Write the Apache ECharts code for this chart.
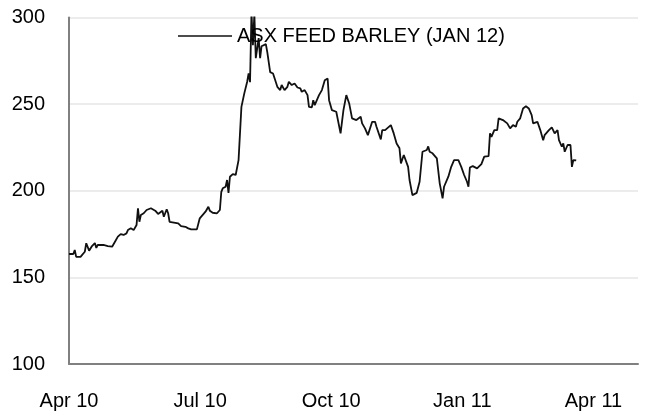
<!DOCTYPE html>
<html>
<head>
<meta charset="utf-8">
<script src="https://cdn.jsdelivr.net/npm/echarts@6/dist/echarts.min.js"></script>
<style>
  html, body { margin: 0; padding: 0; background: #ffffff; }
  #chart { width: 650px; height: 417px; }
</style>
</head>
<body>
<div id="chart"></div>
<script>
// Series name
const seriesName = 'ASX FEED BARLEY (JAN 12)';

// X-axis tick labels (quarterly)
const xTickLabels = ['Apr 10', 'Jul 10', 'Oct 10', 'Jan 11', 'Apr 11'];

// Y-axis ticks
const yTicks = [100, 150, 200, 250, 300];

// Observation dates
const dates = [
  '2010-04-01','2010-04-04','2010-04-05','2010-04-06','2010-04-09','2010-04-10','2010-04-12','2010-04-13',
  '2010-04-15','2010-04-17','2010-04-19','2010-04-20','2010-04-21','2010-04-25','2010-04-26','2010-04-28',
  '2010-05-01','2010-05-03','2010-05-05','2010-05-07','2010-05-09','2010-05-11','2010-05-12','2010-05-14',
  '2010-05-16','2010-05-17','2010-05-18','2010-05-19','2010-05-20','2010-05-21','2010-05-23','2010-05-25',
  '2010-05-28','2010-05-31','2010-06-02','2010-06-03','2010-06-05','2010-06-06','2010-06-08','2010-06-09',
  '2010-06-10','2010-06-14','2010-06-16','2010-06-18','2010-06-21','2010-06-23','2010-06-25','2010-06-29',
  '2010-07-01','2010-07-02','2010-07-05','2010-07-07','2010-07-08','2010-07-10','2010-07-13','2010-07-15',
  '2010-07-16','2010-07-17','2010-07-19','2010-07-20','2010-07-21','2010-07-22','2010-07-24','2010-07-26',
  '2010-07-27','2010-07-28','2010-07-29','2010-07-30','2010-08-01','2010-08-03','2010-08-04','2010-08-05',
  '2010-08-06','2010-08-07','2010-08-08','2010-08-09','2010-08-11','2010-08-12','2010-08-13','2010-08-16',
  '2010-08-17','2010-08-19','2010-08-21','2010-08-22','2010-08-24','2010-08-26','2010-08-27','2010-08-29',
  '2010-08-31','2010-09-01','2010-09-03','2010-09-05','2010-09-07','2010-09-09','2010-09-10','2010-09-12',
  '2010-09-14','2010-09-15','2010-09-17','2010-09-18','2010-09-19','2010-09-22','2010-09-24','2010-09-26',
  '2010-09-28','2010-09-29','2010-10-01','2010-10-04','2010-10-07','2010-10-09','2010-10-11','2010-10-13',
  '2010-10-15','2010-10-18','2010-10-21','2010-10-22','2010-10-24','2010-10-26','2010-10-29','2010-10-31',
  '2010-11-01','2010-11-04','2010-11-05','2010-11-07','2010-11-11','2010-11-13','2010-11-15','2010-11-17',
  '2010-11-18','2010-11-20','2010-11-21','2010-11-23','2010-11-24','2010-11-26','2010-11-29','2010-12-01',
  '2010-12-03','2010-12-06','2010-12-07','2010-12-08','2010-12-10','2010-12-11','2010-12-13','2010-12-14',
  '2010-12-15','2010-12-17','2010-12-18','2010-12-21','2010-12-23','2010-12-25','2010-12-28','2010-12-30',
  '2011-01-01','2011-01-03','2011-01-04','2011-01-05','2011-01-07','2011-01-10','2011-01-11','2011-01-13',
  '2011-01-15','2011-01-18','2011-01-19','2011-01-20','2011-01-22','2011-01-23','2011-01-24','2011-01-25',
  '2011-01-28','2011-01-31','2011-02-02','2011-02-04','2011-02-06','2011-02-07','2011-02-09','2011-02-11',
  '2011-02-13','2011-02-15','2011-02-17','2011-02-18','2011-02-21','2011-02-23','2011-02-25','2011-02-26',
  '2011-03-01','2011-03-03','2011-03-05','2011-03-07','2011-03-08','2011-03-10','2011-03-11','2011-03-12',
  '2011-03-14','2011-03-16','2011-03-17','2011-03-18','2011-03-20'
];

// Prices
const prices = [
  163.5,163.5,165.8,161.8,161.8,162.9,164.8,169.7,
  165.4,168.1,169.8,167.0,168.7,168.7,168.1,168.1,
  167.7,170.6,173.5,175.0,174.5,175.4,177.3,178.3,
  177.3,176.4,180.2,189.9,182.1,186.0,187.0,188.9,
  189.9,188.5,186.6,186.0,188.5,185.0,189.3,187.0,
  182.1,181.5,181.2,179.6,179.2,178.3,177.7,177.7,
  184.1,185.0,187.9,190.8,188.5,187.3,187.0,188.9,
  199.4,201.4,202.3,206.2,198.8,208.1,209.6,209.1,
  210.2,217.7,233.1,248.4,256.2,262.9,267.7,262.7,
  303.0,284.0,302.0,276.5,288.1,276.5,283.4,284.6,
  280.0,268.5,267.7,266.7,260.0,258.1,261.0,258.1,
  260.0,262.9,261.0,261.9,259.6,259.1,257.1,258.1,
  255.2,248.4,248.1,252.3,249.4,255.2,258.1,263.8,
  264.8,252.3,246.5,245.6,233.1,246.5,255.2,250.4,
  241.8,240.8,242.7,238.9,236.0,232.1,239.8,239.8,
  236.9,229.6,235.0,235.0,237.9,233.1,227.3,224.5,
  215.8,220.6,221.2,213.8,206.2,197.5,198.8,205.2,
  222.5,223.5,225.6,222.5,221.6,220.6,218.7,217.7,
  204.3,195.6,202.3,208.1,213.8,217.7,217.7,213.8,
  209.1,205.2,202.3,213.4,214.2,212.9,211.9,215.4,
  219.7,220.0,233.1,231.1,235.0,236.0,235.0,241.8,
  240.8,238.9,236.0,237.9,236.9,239.8,241.8,247.5,
  248.8,247.5,243.7,238.9,239.8,235.0,229.2,232.1,
  235.0,236.6,233.1,235.0,229.2,225.4,227.3,222.5,
  226.4,226.4,213.8,217.7,217.5
];

const startDate = '2010-04-01';
const DAY = 86400000;
const t0 = Date.parse(startDate);
const seriesData = dates.map((d, i) => [(Date.parse(d) - t0) / DAY, prices[i]]);

const chart = echarts.init(document.getElementById('chart'), null, { renderer: 'canvas' });
const fontFamily = '"Liberation Sans", Arial, Helvetica, sans-serif';
const quarter = 91.25;

chart.setOption({
  animation: false,
  backgroundColor: '#ffffff',
  textStyle: { fontFamily: fontFamily },
  grid: { left: 69, right: 12, top: 17.5, bottom: 53, containLabel: false },
  legend: {
    show: true,
    left: 173,
    top: 21,
    itemWidth: 54,
    itemHeight: 1.6,
    itemGap: 10,
    textStyle: { fontSize: 20, color: '#000000', fontFamily: fontFamily, padding: [0, 0, 0, 0] },
    data: [{ name: seriesName, icon: 'rect', itemStyle: { color: '#111111' } }]
  },
  xAxis: {
    type: 'value',
    min: 0,
    max: 396,
    interval: quarter,
    axisLine: { show: true, lineStyle: { color: '#808080', width: 2 } },
    axisTick: { show: false },
    splitLine: { show: false },
    axisLabel: {
      show: true,
      showMaxLabel: false,
      margin: 27,
      fontSize: 20,
      color: '#000000',
      formatter: function (v) {
        const k = Math.round(v / quarter);
        return xTickLabels[k] !== undefined && Math.abs(v - k * quarter) < 1 ? xTickLabels[k] : '';
      }
    }
  },
  yAxis: {
    type: 'value',
    min: yTicks[0],
    max: yTicks[yTicks.length - 1],
    interval: 50,
    axisLine: { show: true, lineStyle: { color: '#808080', width: 2 } },
    axisTick: { show: false },
    splitLine: { show: true, lineStyle: { color: '#e6e6e6', width: 1.5 } },
    axisLabel: { margin: 24, fontSize: 20, color: '#000000' }
  },
  series: [{
    name: seriesName,
    type: 'line',
    data: seriesData,
    symbol: 'none',
    clip: true,
    lineStyle: { color: '#111111', width: 1.8 },
    itemStyle: { color: '#111111' },
    z: 3
  }]
});
</script>
</body>
</html>
